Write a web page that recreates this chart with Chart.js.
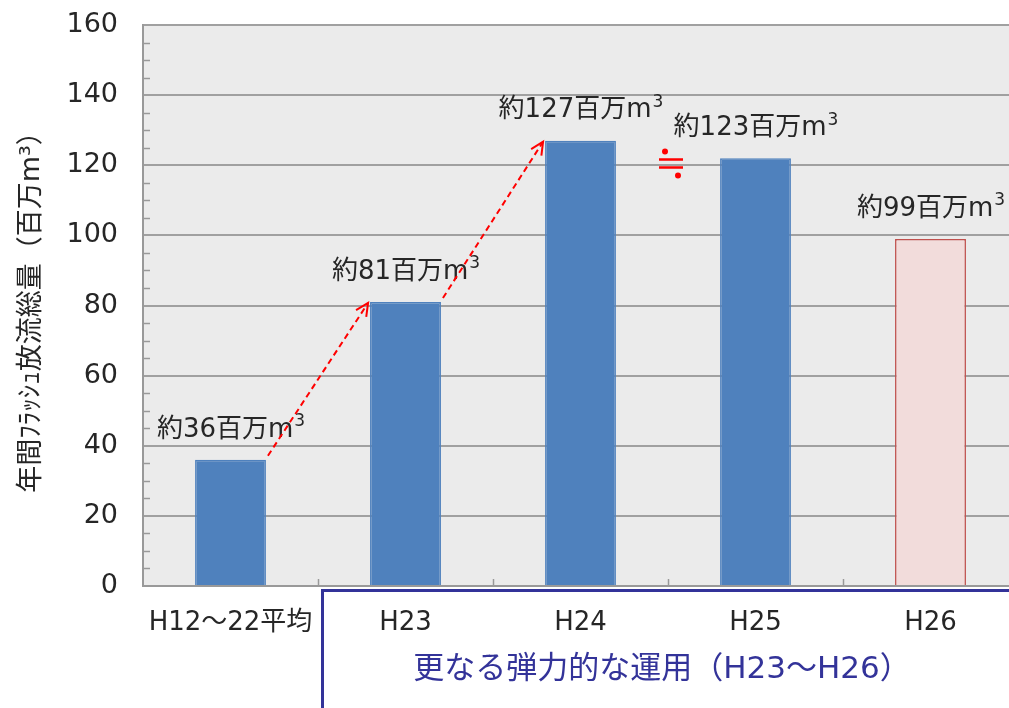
<!DOCTYPE html>
<html>
<head>
<meta charset="utf-8">
<script src="https://cdn.jsdelivr.net/npm/chart.js@4/dist/chart.umd.min.js"></script>
<style>
  html, body { margin: 0; padding: 0; background: #fff; overflow: hidden; }
  canvas { display: block; }
</style>
</head>
<body>
<canvas id="chart" width="1030" height="708"></canvas>
<script>
const categories = ["H12～22平均", "H23", "H24", "H25", "H26"];
const volumes = [36, 81, 127, 122, 99];
const labelNums = [36, 81, 127, 123, 99];
const barColors = ["#4f81bd", "#4f81bd", "#4f81bd", "#4f81bd", "#f2dcdb"];
const barBorders = ["#4f81bd", "#4f81bd", "#4f81bd", "#4f81bd", "#c0504d"];
const yTitle = "年間ﾌﾗｯｼｭ放流総量（百万m³）";
const boxText = "更なる弾力的な運用（H23～H26）";

const FONT = "'DejaVu Sans', 'Noto Sans CJK JP', sans-serif";

const deco = {
  id: "deco",
  beforeDraw(chart) {
    const { ctx, chartArea: a } = chart;
    ctx.save();
    ctx.fillStyle = "#ebebeb";
    ctx.fillRect(a.left, a.top, a.right - a.left, a.bottom - a.top);
    ctx.restore();
  },
  afterDatasetsDraw(chart) {
    const { ctx, chartArea: a } = chart;
    const x = chart.scales.x, y = chart.scales.y;
    const bars = chart.getDatasetMeta(0).data;
    ctx.save();

    // minor ticks on y axis, every 5
    ctx.strokeStyle = "#999";
    ctx.lineWidth = 1.5;
    for (let v = 5; v < 160; v += 5) {
      if (v % 20 === 0) continue;
      const py = Math.round(y.getPixelForValue(v)) + 0.5;
      ctx.beginPath();
      ctx.moveTo(a.left, py);
      ctx.lineTo(a.left + 7, py);
      ctx.stroke();
    }
    // category boundary ticks
    for (let i = 0; i < categories.length - 1; i++) {
      const px = Math.round((x.getPixelForValue(i) + x.getPixelForValue(i + 1)) / 2) + 0.5;
      ctx.beginPath();
      ctx.moveTo(px, a.bottom);
      ctx.lineTo(px, a.bottom - 7);
      ctx.stroke();
    }

    // value labels
    ctx.fillStyle = "#262626";
    ctx.textBaseline = "middle";
    ctx.textAlign = "left";
    bars.forEach((b, i) => {
      const main = "約" + labelNums[i] + "百万m";
      ctx.font = "26px " + FONT;
      const w1 = ctx.measureText(main).width;
      ctx.font = "17px " + FONT;
      const w2 = ctx.measureText("3").width;
      const sx = b.x - (w1 + w2) / 2;
      const sy = b.y - 30;
      ctx.font = "26px " + FONT;
      ctx.fillText(main, sx, sy);
      ctx.font = "17px " + FONT;
      ctx.fillText("3", sx + w1 + 1, sy - 8);
    });

    // red dashed arrows
    ctx.strokeStyle = "#ff0000";
    ctx.lineWidth = 2;
    for (let i = 0; i < 2; i++) {
      const b1 = bars[i], b2 = bars[i + 1];
      const x1 = b1.x + b1.width / 2 + 2, y1 = b1.y - 4;
      const x2 = b2.x - b2.width / 2 - 2, y2 = b2.y + 1;
      ctx.setLineDash([6, 4]);
      ctx.beginPath();
      ctx.moveTo(x1, y1);
      ctx.lineTo(x2, y2);
      ctx.stroke();
      ctx.setLineDash([]);
      const ang = Math.atan2(y2 - y1, x2 - x1);
      ctx.beginPath();
      ctx.moveTo(x2 - 14 * Math.cos(ang - 0.45), y2 - 14 * Math.sin(ang - 0.45));
      ctx.lineTo(x2, y2);
      ctx.lineTo(x2 - 14 * Math.cos(ang + 0.45), y2 - 14 * Math.sin(ang + 0.45));
      ctx.stroke();
    }

    // approx-equal sign between H24 and H25
    const ex = (x.getPixelForValue(2) + x.getPixelForValue(3)) / 2 + 3;
    const ey = y.getPixelForValue(120.5);
    ctx.strokeStyle = "#ff0000";
    ctx.fillStyle = "#ff0000";
    ctx.lineWidth = 2.5;
    ctx.beginPath();
    ctx.moveTo(ex - 12, ey - 4); ctx.lineTo(ex + 12, ey - 4);
    ctx.moveTo(ex - 12, ey + 4); ctx.lineTo(ex + 12, ey + 4);
    ctx.stroke();
    ctx.beginPath();
    ctx.arc(ex - 6, ey - 12, 3, 0, Math.PI * 2);
    ctx.arc(ex + 7, ey + 12, 3, 0, Math.PI * 2);
    ctx.fill();

    // bracket box under H23-H26
    const boxLeft = Math.round((x.getPixelForValue(0) + x.getPixelForValue(1)) / 2) + 4.5;
    const boxTop = a.bottom + 4.5;
    ctx.strokeStyle = "#333399";
    ctx.lineWidth = 3;
    ctx.beginPath();
    ctx.moveTo(boxLeft, chart.height + 5);
    ctx.lineTo(boxLeft, boxTop);
    ctx.lineTo(chart.width + 5, boxTop);
    ctx.stroke();
    ctx.fillStyle = "#333399";
    ctx.textAlign = "center";
    ctx.font = "31px " + FONT;
    ctx.fillText(boxText, x.getPixelForValue(2.5) - 6, 670);

    ctx.restore();
  }
};

new Chart(document.getElementById("chart"), {
  type: "bar",
  data: {
    labels: categories,
    datasets: [{
      data: volumes,
      backgroundColor: barColors,
      borderColor: barBorders,
      borderWidth: 1.5,
      barPercentage: 0.405,
      categoryPercentage: 1.0
    }]
  },
  options: {
    responsive: false,
    animation: false,
    layout: { padding: { top: 25, right: 12, left: 0, bottom: 0 } },
    plugins: { legend: { display: false }, tooltip: { enabled: false } },
    scales: {
      x: {
        grid: { display: false },
        border: { display: true, color: "#999", width: 2 },
        ticks: { color: "#262626", font: { family: FONT, size: 26 }, padding: 14, maxRotation: 0 },
        afterFit(s) { s.height = 122; }
      },
      y: {
        min: 0,
        max: 160,
        ticks: { stepSize: 20, color: "#262626", font: { family: FONT, size: 27 }, padding: 25 },
        grid: { color: "#a0a0a0", lineWidth: 2, drawTicks: false },
        border: { display: true, color: "#999", width: 2 },
        title: {
          display: true,
          text: yTitle,
          color: "#262626",
          font: { family: FONT, size: 27 },
          padding: { top: 16, bottom: 0 }
        },
        afterFit(s) {
          s.width = 143;
          s.paddingTop = 0;
          s.paddingBottom = 0;
        }
      }
    }
  },
  plugins: [deco]
});
</script>
</body>
</html>
